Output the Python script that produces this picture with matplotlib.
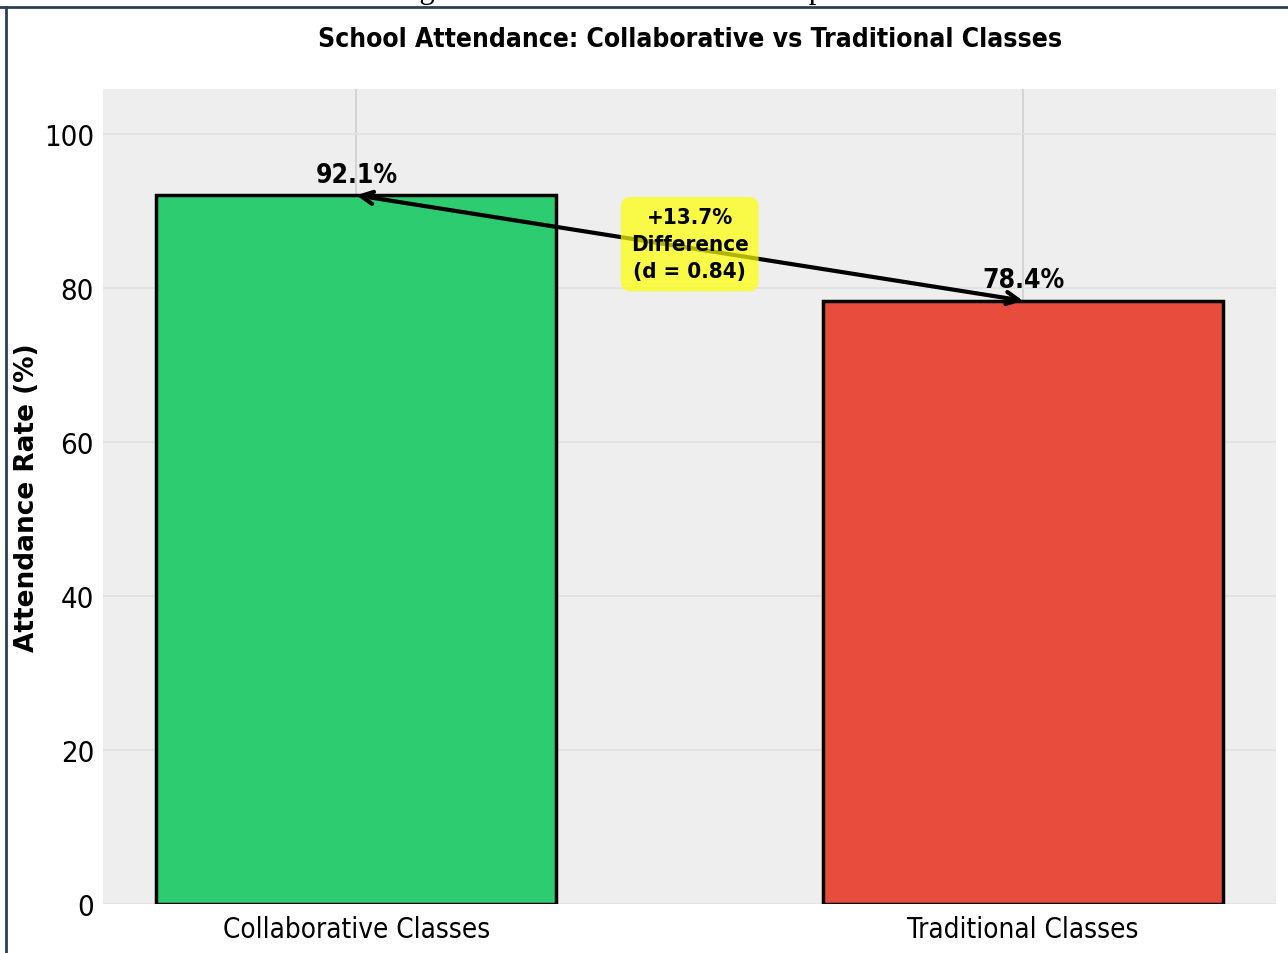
import matplotlib
matplotlib.use("Agg")
import matplotlib.pyplot as plt
from matplotlib.lines import Line2D

# Attendance figures
categories = ["Collaborative Classes", "Traditional Classes"]
attendance = [92.1, 78.4]
bar_colors = ["#2ecc71", "#e74c3c"]
yticks = [0, 20, 40, 60, 80, 100]
difference_text = "+13.7%\nDifference\n(d = 0.84)"

plt.rcParams["font.family"] = ["DejaVu Sans Condensed", "DejaVu Sans"]
plt.rcParams["font.stretch"] = "condensed"

fig = plt.figure(figsize=(12.88, 9.54), dpi=100, facecolor="white")
ax = fig.add_axes([0.080, 0.0514, 0.911, 0.8543])
ax.set_facecolor("#eeeeee")

x = list(range(len(categories)))
bars = ax.bar(x, attendance, width=0.6, color=bar_colors,
              edgecolor="black", linewidth=2.5, zorder=3)

# Value labels on top of bars
for xi, val in zip(x, attendance):
    ax.text(xi, val + 1, f"{val}%", ha="center", va="bottom",
            fontsize=19, fontweight="bold", zorder=5)

# Double arrow between the bar tops
ax.annotate("", xy=(x[1], attendance[1]), xytext=(x[0], attendance[0]),
            arrowprops=dict(arrowstyle="<->", color="black", lw=3,
                            mutation_scale=22, shrinkA=0, shrinkB=0),
            zorder=6)
mid = (attendance[0] + attendance[1]) / 2
ax.text(0.5, mid + 0.5, difference_text, ha="center", va="center",
        fontsize=16, fontweight="bold", linespacing=1.45, zorder=7,
        bbox=dict(boxstyle="round,pad=0.45", facecolor="yellow",
                  edgecolor="none", alpha=0.7))

ax.set_ylim(0, max(attendance) * 1.15)
ax.set_xlim(-0.38, 1.38)
ax.set_xticks(x)
ax.set_xticklabels(categories, fontsize=20)
ax.set_yticks(yticks)
ax.set_yticklabels([str(t) for t in yticks], fontsize=21)
ax.tick_params(axis="both", length=0)
ax.tick_params(axis="x", pad=8)
ax.tick_params(axis="y", pad=6.5)

ax.grid(True, axis="x", color="#cfcfcf", linewidth=1.2, zorder=0)
ax.grid(True, axis="y", color="#e0e0e0", linewidth=1.2, zorder=0)
ax.set_axisbelow(True)
for spine in ax.spines.values():
    spine.set_visible(False)

ax.set_ylabel("Attendance Rate (%)", fontsize=19, fontweight="bold",
              family="DejaVu Sans", stretch="normal")
ax.yaxis.set_label_coords(-0.054, 0.5)
ax.set_title("School Attendance: Collaborative vs Traditional Classes",
             fontsize=19, fontweight="bold", pad=31)

# Caption cut off at the top edge and page frame lines
fig.text(0.502, 1.002, "Figure 3: School Attendance Comparison",
         ha="center", va="baseline", fontsize=22,
         family="Liberation Serif", stretch="normal")
fig.add_artist(Line2D([0, 1], [1 - 8 / 954, 1 - 8 / 954],
                      transform=fig.transFigure, color="#2c3e5c", lw=2))
fig.add_artist(Line2D([6 / 1288, 6 / 1288], [0, 1 - 8 / 954],
                      transform=fig.transFigure, color="#2c3e5c", lw=2))

fig.savefig("out.png", dpi=100)
plt.close(fig)
